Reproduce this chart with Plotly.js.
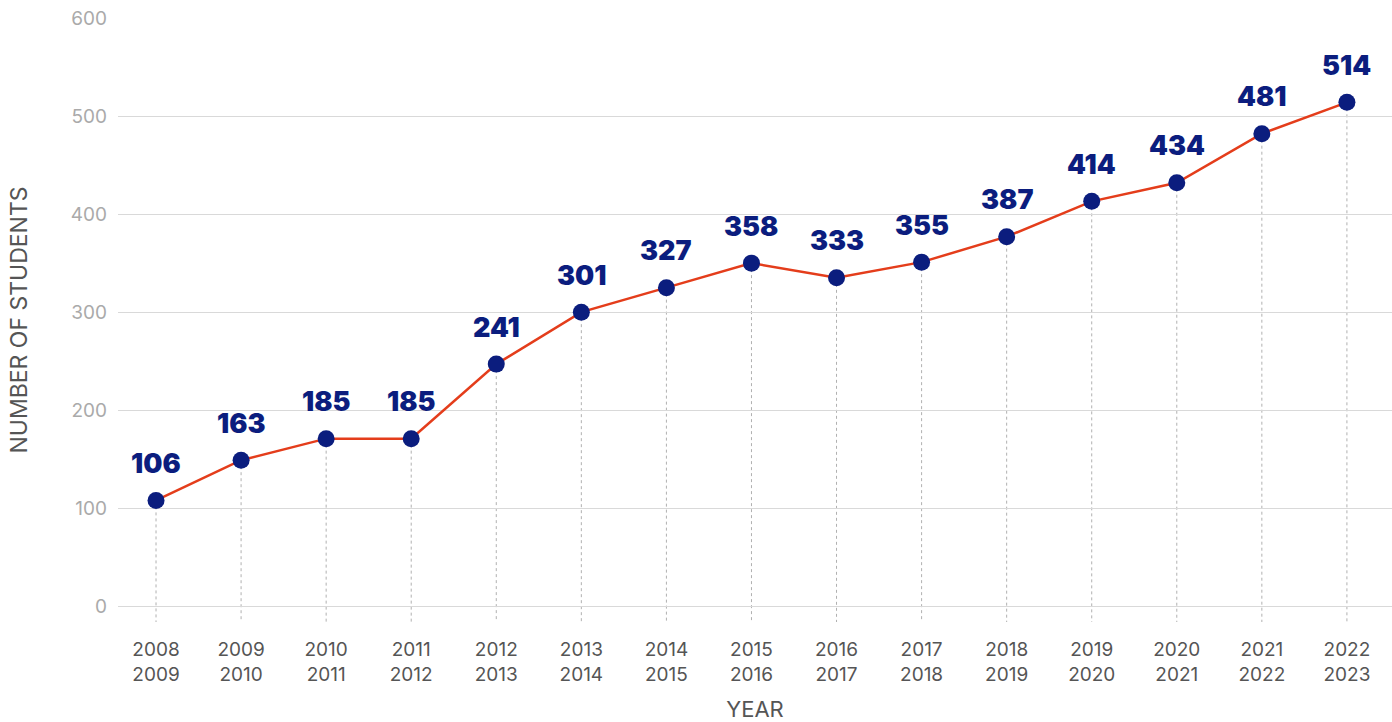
<!DOCTYPE html>
<html>
<head>
<meta charset="utf-8">
<script src="https://cdn.plot.ly/plotly-3.0.1.min.js"></script>
<style>html,body{margin:0;padding:0;background:#fff;}#chart{width:1392px;height:722px;}</style>
</head>
<body>
<div id="chart"></div>
<script>
const years = ["2008<br>2009","2009<br>2010","2010<br>2011","2011<br>2012","2012<br>2013","2013<br>2014","2014<br>2015","2015<br>2016","2016<br>2017","2017<br>2018","2018<br>2019","2019<br>2020","2020<br>2021","2021<br>2022","2022<br>2023"];
const plotted = [108, 149, 171, 171, 247, 300, 325, 350, 335, 351, 377, 413, 432, 482, 514];
const labels = ["106","163","185","185","241","301","327","358","333","355","387","414","434","481","514"];
const yTicks = [0, 100, 200, 300, 400, 500, 600];

const navy = "#0b1d7e";
const red = "#e43d1b";

const trace = {
  x: years, y: plotted, type: "scatter", mode: "lines+markers",
  line: {color: red, width: 2.5},
  marker: {color: navy, size: 17},
  cliponaxis: false, hoverinfo: "none"
};

const shapes = years.map((c, i) => ({
  type: "line", xref: "x", yref: "y", x0: c, x1: c, y0: plotted[i], y1: -16,
  line: {color: "#b0b0b0", width: 1, dash: "dot"}, layer: "below"
}));

const annotations = years.map((c, i) => ({
  x: c, y: plotted[i], xref: "x", yref: "y", text: labels[i], showarrow: false,
  yshift: 37, font: {family: "Inter, 'Open Sans', sans-serif", size: 27, color: navy, weight: 900}
}));

const layout = {
  width: 1392, height: 722,
  margin: {l: 118, r: 0, t: 18, b: 100},
  paper_bgcolor: "#fff", plot_bgcolor: "#fff",
  showlegend: false,
  font: {family: "Inter, 'Open Sans', sans-serif"},
  xaxis: {
    type: "category", range: [-0.447, 14.53],
    showgrid: false, zeroline: false, showline: false, ticks: "",
    ticklabelstandoff: 14,
    tickfont: {size: 19, color: "#555"},
    title: {text: "YEAR", font: {size: 22, color: "#555"}, standoff: 16}
  },
  yaxis: {
    range: [-16, 600], tickvals: yTicks, ticktext: yTicks.map(String),
    showgrid: true, gridcolor: "#d9d9d9", gridwidth: 1, zeroline: false,
    showline: false, ticks: "", ticklabelstandoff: 10,
    tickfont: {size: 19, color: "#aaa"},
    title: {text: "NUMBER OF STUDENTS", font: {size: 23, color: "#555"}, standoff: 36}
  },
  shapes: shapes,
  annotations: annotations
};

Plotly.newPlot("chart", [trace], layout, {displayModeBar: false, staticPlot: true});
</script>
</body>
</html>
